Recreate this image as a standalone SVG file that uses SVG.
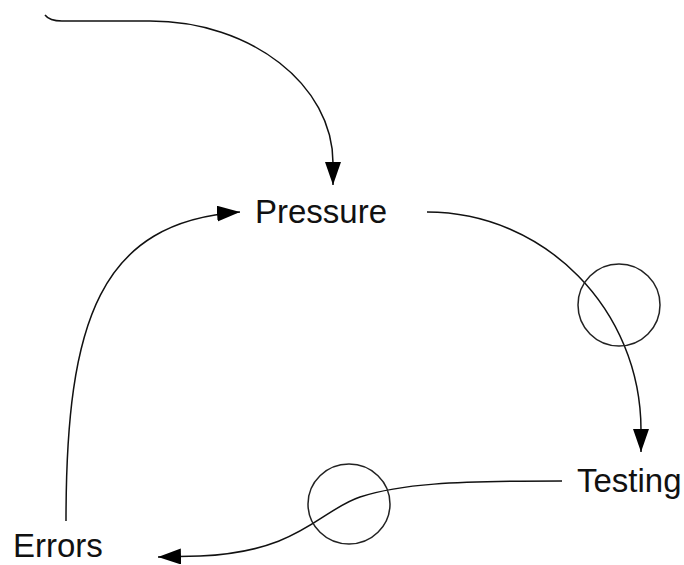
<svg xmlns="http://www.w3.org/2000/svg" width="684" height="565" viewBox="0 0 684 565">
<style>
.lbl{font-family:"Liberation Sans",Arial,sans-serif;font-size:33px;fill:#111}
.edge{fill:none;stroke:#111;stroke-width:1.5}
.ring{fill:none;stroke:#222;stroke-width:1.5}
</style>
<defs>
<marker id="arr" markerUnits="userSpaceOnUse" markerWidth="24" markerHeight="17" refX="23" refY="8" orient="auto">
<path d="M0,0 L23,8 L0,16 z" fill="#000"/>
</marker>
</defs>
<rect width="684" height="565" fill="#fff"/>
<g id="connectors">
<path class="edge" d="M45,15 C48,19 52,21 62,21 L150,21 C251,21 333,85 333,163 L333,185" marker-end="url(#arr)"/>
<path class="edge" d="M66,521 C66,320 100,222 240,212" marker-end="url(#arr)"/>
<path class="edge" d="M427,212 C545,212 641,310 641,430 L641,452" marker-end="url(#arr)"/>
<path class="edge" d="M562,481 C450,481 400,484 360,497 C320,510 300,552 200,556 L158,557" marker-end="url(#arr)"/>
<ellipse id="valve1" class="ring" cx="619" cy="305" rx="41" ry="41"/>
<ellipse id="valve2" class="ring" cx="349" cy="504" rx="41" ry="40"/>
</g>
<g id="pressure"><text class="lbl" x="255" y="223">Pressure</text></g>
<g id="testing"><text class="lbl" x="577" y="492">Testing</text></g>
<g id="errors"><text class="lbl" x="13" y="557">Errors</text></g>
</svg>
